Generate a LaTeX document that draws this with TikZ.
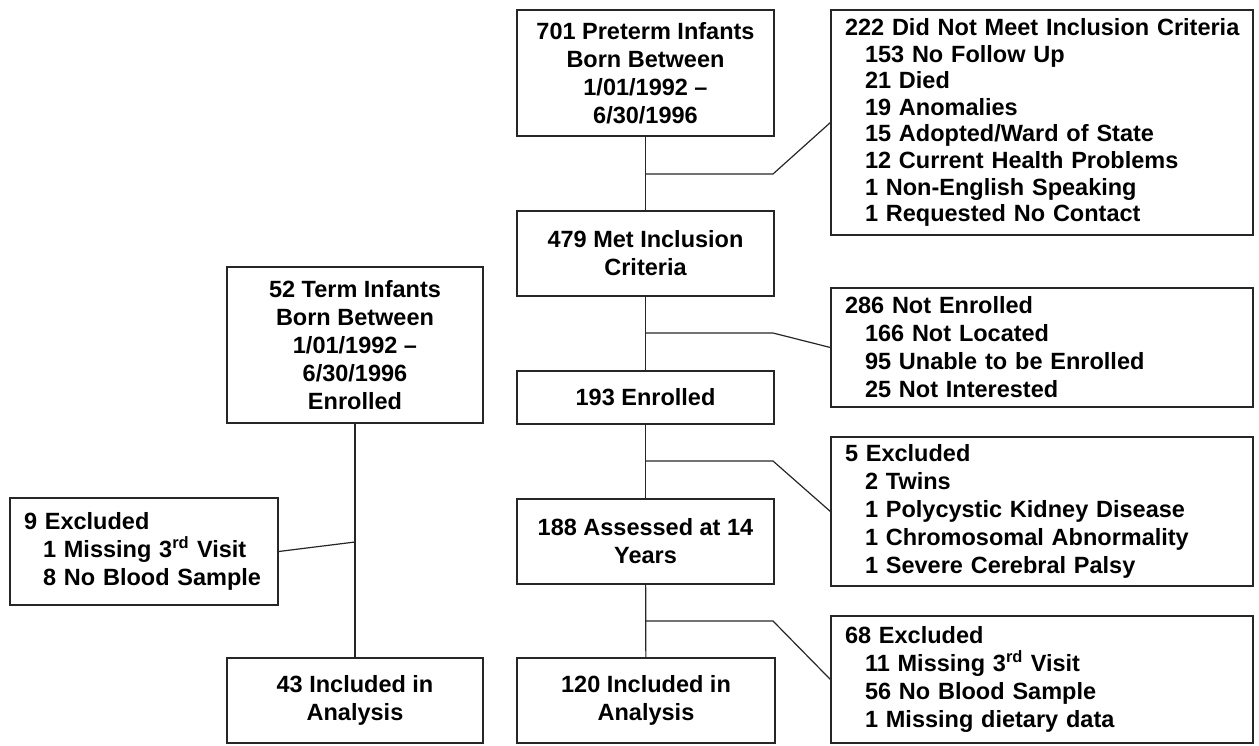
\documentclass[tikz,border=0pt]{standalone}
\usepackage{fontspec}
\setmainfont{Liberation Sans}
\newcommand\hdsp{\hspace*{14pt}}
\newcommand\subsp{\hspace*{34pt}}
\begin{document}
\begin{tikzpicture}[x=1pt,y=-1pt,
  every node/.style={font=\fontsize{23.5pt}{28pt}\selectfont\bfseries},
  cbox/.style={draw=black!85, line width=1.2pt, inner sep=0pt, align=center},
  lbox/.style={draw=black!85, line width=1.2pt, inner sep=0pt, align=left},
  link/.style={draw=black!85, line width=1.2pt}]
\useasboundingbox (0,0) rectangle (1259,745);
% centre column
\node[cbox, minimum width=257pt, minimum height=126pt] (p1) at (645.5,73) {701 Preterm Infants\\Born Between\\1/01/1992 --\\6/30/1996};
\node[cbox, minimum width=257pt, minimum height=85pt] (p2) at (645.5,253.5) {479 Met Inclusion\\Criteria};
\node[cbox, minimum width=257pt, minimum height=53pt] (p3) at (645.5,397.5) {193 Enrolled};
\node[cbox, minimum width=257pt, minimum height=85pt] (p4) at (645.5,541.5) {188 Assessed at 14\\Years};
\node[cbox, minimum width=258pt, minimum height=85pt] (p5) at (646,700.5) {120 Included in\\Analysis};
% right column
\node[lbox, text width=422pt, minimum height=225pt, font=\fontsize{23.5pt}{26.6pt}\selectfont\bfseries] (r1) at (1042,122.5) {\hdsp 222 Did Not Meet Inclusion Criteria\\
\subsp 153 No Follow Up\\
\subsp 21 Died\\
\subsp 19 Anomalies\\
\subsp 15 Adopted/Ward of State\\
\subsp 12 Current Health Problems\\
\subsp 1 Non-English Speaking\\
\subsp 1 Requested No Contact};
\node[lbox, text width=422pt, minimum height=119pt] (r2) at (1042,347.5) {\hdsp 286 Not Enrolled\\
\subsp 166 Not Located\\
\subsp 95 Unable to be Enrolled\\
\subsp 25 Not Interested};
\node[lbox, text width=422pt, minimum height=149pt] (r3) at (1042,511.5) {\hdsp 5 Excluded\\
\subsp 2 Twins\\
\subsp 1 Polycystic Kidney Disease\\
\subsp 1 Chromosomal Abnormality\\
\subsp 1 Severe Cerebral Palsy};
\node[lbox, text width=422pt, minimum height=127pt] (r4) at (1042,679.5) {\hdsp 68 Excluded\\
\subsp 11 Missing 3\textsuperscript{rd} Visit\\
\subsp 56 No Blood Sample\\
\subsp 1 Missing dietary data};
% left column
\node[cbox, minimum width=256pt, minimum height=156pt] (t1) at (355,345) {52 Term Infants\\Born Between\\1/01/1992 --\\6/30/1996\\Enrolled};
\node[cbox, minimum width=256pt, minimum height=85pt] (t2) at (355,700.5) {43 Included in\\Analysis};
\node[lbox, text width=268pt, minimum height=107pt] (x1) at (144,551.5) {\hdsp 9 Excluded\\
\hspace*{33pt}1 Missing 3\textsuperscript{rd} Visit\\
\hspace*{33pt}8 No Blood Sample};
% junctions
\coordinate (j1) at (645.5,174); \coordinate (k1) at (773,174);
\coordinate (j2) at (645.5,333); \coordinate (k2) at (773,333);
\coordinate (j3) at (645.5,461); \coordinate (k3) at (773,461);
\coordinate (j4) at (645.5,621); \coordinate (k4) at (773,621);
\coordinate (j5) at (355,542);
% connectors
\draw[link] (p1) -- (p2);
\draw[link] (p2) -- (p3);
\draw[link] (p3) -- (p4);
\draw[link] (p4) -- (p5);
\draw[link] (j1) -- (k1) -- (r1.west);
\draw[link] (j2) -- (k2) -- (r2.west);
\draw[link] (j3) -- (k3) -- (r3.west);
\draw[link] (j4) -- (k4) -- (r4.west);
\draw[link] (t1) -- (t2);
\draw[link] (j5) -- (x1.east);
\end{tikzpicture}
\end{document}
